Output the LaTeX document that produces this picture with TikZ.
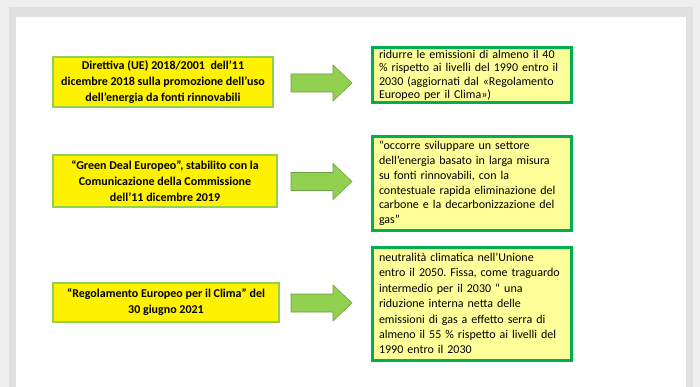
\documentclass[tikz,border=0pt]{standalone}
\usepackage{fontspec}
\setmainfont{Carlito}
\frenchspacing
\definecolor{outerbg}{HTML}{EEEEEE}
\definecolor{bandgray}{HTML}{E0E0E0}
\definecolor{lgreen}{HTML}{92D050}
\definecolor{dgreen}{HTML}{00B050}
\definecolor{arrowedge}{HTML}{6E9E45}
\definecolor{paleyellow}{HTML}{FFFF99}
\tikzset{
  srcbox/.style={draw=lgreen, line width=2.6pt, fill=yellow, align=center,
    font=\fontsize{12}{16}\selectfont\bfseries, inner sep=1pt},
  goalbox/.style={draw=dgreen, line width=3pt, fill=paleyellow, align=left,
    text width=186pt, inner xsep=6pt, inner ysep=1pt, minimum width=199pt},
  fatarrow/.style={fill=lgreen, draw=arrowedge, line width=0.6pt, line join=miter}
}
\newcommand{\fatarr}[1]{%
  \draw[fatarrow] (291,#1+9) -- (333,#1+9) -- (333,#1+18) -- (352,#1) -- (333,#1-18) -- (333,#1-9) -- (291,#1-9) -- cycle;}
\begin{document}
\begin{tikzpicture}[x=1pt,y=-1pt]
\useasboundingbox (0,0) rectangle (700,387);
\fill[outerbg] (0,0) rectangle (700,387);
\fill[bandgray] (9,7) rectangle (693,387);
\fill[white] (16,17) rectangle (686,387);

\node[srcbox, minimum width=220pt, minimum height=50pt] (s1) at (163,82)
  {Direttiva (UE) 2018/2001\ \ dell'11\\dicembre 2018 sulla promozione dell'uso\\dell'energia da fonti rinnovabili};
\node[srcbox, minimum width=224pt, minimum height=52pt] (s2) at (165,181)
  {“Green Deal Europeo”, stabilito con la\\Comunicazione della Commissione\\dell’11 dicembre 2019};
\node[srcbox, minimum width=226pt, minimum height=39pt] (s3) at (166,302.5)
  {“Regolamento Europeo per il Clima” del\\30 giugno 2021};

\node[goalbox, minimum height=55pt, font=\fontsize{12}{13.4}\selectfont] (g1) at (472,75.5)
  {ridurre le emissioni di almeno il 40\\\% rispetto ai livelli del 1990 entro il\\2030 (aggiornati dal «Regolamento\\Europeo per il Clima»)};
\node[goalbox, minimum height=93pt, font=\fontsize{12}{14.8}\selectfont] (g2) at (472,183.5)
  {“occorre sviluppare un settore\\dell'energia basato in larga misura\\su fonti rinnovabili, con la\\contestuale rapida eliminazione del\\carbone e la decarbonizzazione del\\gas”};
\node[goalbox, minimum height=113pt, font=\fontsize{12}{15.4}\selectfont] (g3) at (472,303.5)
  {neutralità climatica nell’Unione\\entro il 2050. Fissa, come traguardo\\intermedio per il 2030 “ una\\riduzione interna netta delle\\emissioni di gas a effetto serra di\\almeno il 55 \% rispetto ai livelli del\\1990 entro il 2030};

\fatarr{83}
\fatarr{181.5}
\fatarr{303}
\end{tikzpicture}
\end{document}
